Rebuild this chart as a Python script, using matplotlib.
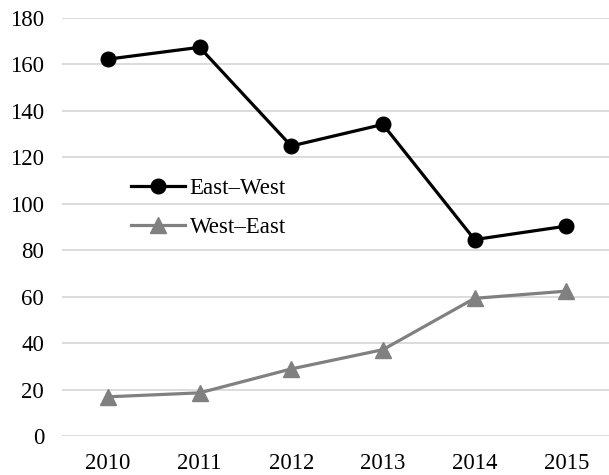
import matplotlib.pyplot as plt

years = ['2010', '2011', '2012', '2013', '2014', '2015']
east_west = [162.3, 167.4, 124.9, 134.2, 84.6, 90.4]
west_east = [16.9, 18.6, 28.9, 37.2, 59.3, 62.4]

plt.rcParams['font.family'] = ['Liberation Serif', 'DejaVu Serif']

fig = plt.figure(figsize=(6.09, 4.75), dpi=100)
ax = fig.add_axes([0.102, 0.082, 0.903, 0.880])

x = range(len(years))
ax.plot(x, east_west, '-o', color='black', lw=2.3, ms=10.5, label='East\u2013West', zorder=3)
ax.plot(x, west_east, '-^', color='#808080', lw=2.3, ms=11.5, label='West\u2013East', zorder=3)

ax.set_xlim(-0.5, 5.5)
ax.set_ylim(0, 180)
ax.set_yticks(range(0, 181, 20))
ax.set_xticks(list(x))
ax.set_xticklabels(years)
ax.yaxis.grid(True, color='#d9d9d9', lw=1.3)
ax.set_axisbelow(True)
for s in ax.spines.values():
    s.set_visible(False)
ax.tick_params(length=0, labelsize=16.5, pad=12)
ax.tick_params(axis='y', pad=13)

ax.legend(loc='center left', bbox_to_anchor=(0.125, 0.545), frameon=False, fontsize=16.5,
          handlelength=2.35, handletextpad=0.22, labelspacing=0.8, borderaxespad=0,
          borderpad=0)

fig.savefig('out.png', dpi=100)
